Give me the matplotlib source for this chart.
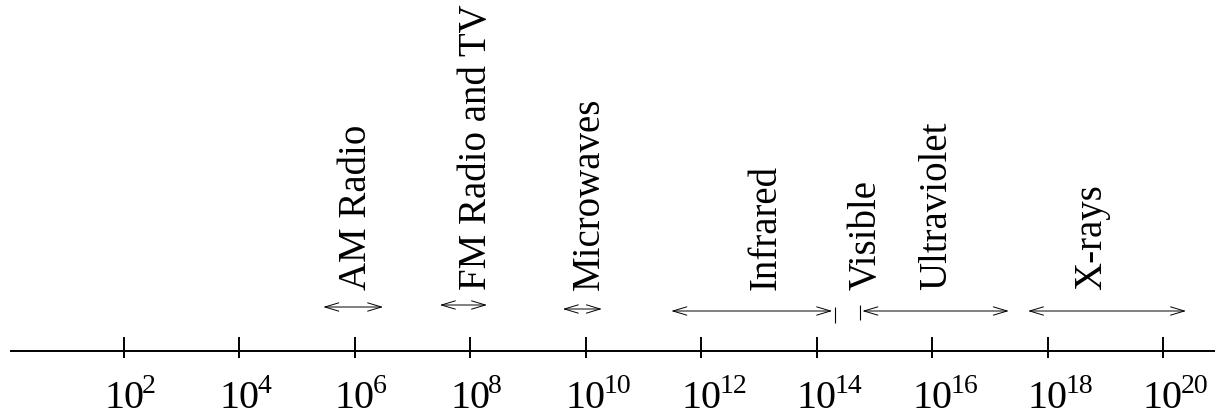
import matplotlib
matplotlib.use("Agg")
import matplotlib.pyplot as plt
import matplotlib.transforms as mtransforms

plt.rcParams['font.family'] = ['Liberation Serif', 'DejaVu Serif']

# frequency axis (Hz), log10 exponents
tick_exps = [2, 4, 6, 8, 10, 12, 14, 16, 18, 20]
tick_exp_labels = [str(e) for e in tick_exps]

# spectral bands: name, start/end exponent of the arrow, label position
band_names = ['AM Radio', 'FM Radio and TV', 'Microwaves', 'Infrared',
              'Ultraviolet', 'X-rays']
band_lo = [5.45, 7.47, 9.60, 11.48, 14.79, 17.66]
band_hi = [6.49, 8.29, 10.28, 14.27, 17.33, 20.40]
band_label_at = [6.02, 8.1, 10.06, 13.12, 16.07, 18.76]

# visible light is too narrow for an arrow, just two bars
visible_lo = 14.32
visible_hi = 14.75
visible_label_at = 14.86

W, H = 1229, 416
fig = plt.figure(figsize=(W / 100, H / 100), dpi=100)
ax = fig.add_axes([0, 0, 1, 1])
ax.set_xscale('log')
# 57.72 px per decade, 10^0 sits at x = 8.6 px
ax.set_xlim(10 ** (-8.6 / 57.72), 10 ** ((W - 8.6) / 57.72))
ax.set_ylim(H, 0)
ax.axis('off')

y_axis = 351
ax.hlines(y_axis, 10 ** 0.02, 10 ** 20.9, color='black', lw=1.4)
ax.vlines([10.0 ** e for e in tick_exps], 337, 358, color='black', lw=1.4)

# "10" centred under the tick, exponent set as a raised superscript
sup_shift = mtransforms.ScaledTranslation(0.18, 0, fig.dpi_scale_trans)
for e, lab in zip(tick_exps, tick_exp_labels):
    ax.text(10.0 ** e, 408, '10', fontsize=29, ha='center', va='baseline')
    ax.text(10.0 ** e, 393, lab, fontsize=20, ha='left', va='baseline',
            transform=ax.transData + sup_shift)

arrow_y = [307, 305, 309, 311, 311, 311]
for name, lo, hi, lx, ay in zip(band_names, band_lo, band_hi,
                                band_label_at, arrow_y):
    ax.annotate('', xy=(10 ** hi, ay), xytext=(10 ** lo, ay),
                arrowprops=dict(arrowstyle='<->,head_length=1.0,head_width=0.3',
                                color='black', lw=0.7, mutation_scale=10,
                                shrinkA=0, shrinkB=0))
    ax.text(10 ** lx, 290, name, rotation=90, fontsize=28,
            ha='center', va='bottom')

ax.vlines(10 ** visible_lo, 307, 323, color='black', lw=0.8)
ax.vlines(10 ** visible_hi, 305, 320, color='black', lw=0.8)
ax.text(10 ** visible_label_at, 290, 'Visible', rotation=90, fontsize=28,
        ha='center', va='bottom')

fig.savefig('out.png', dpi=100)
